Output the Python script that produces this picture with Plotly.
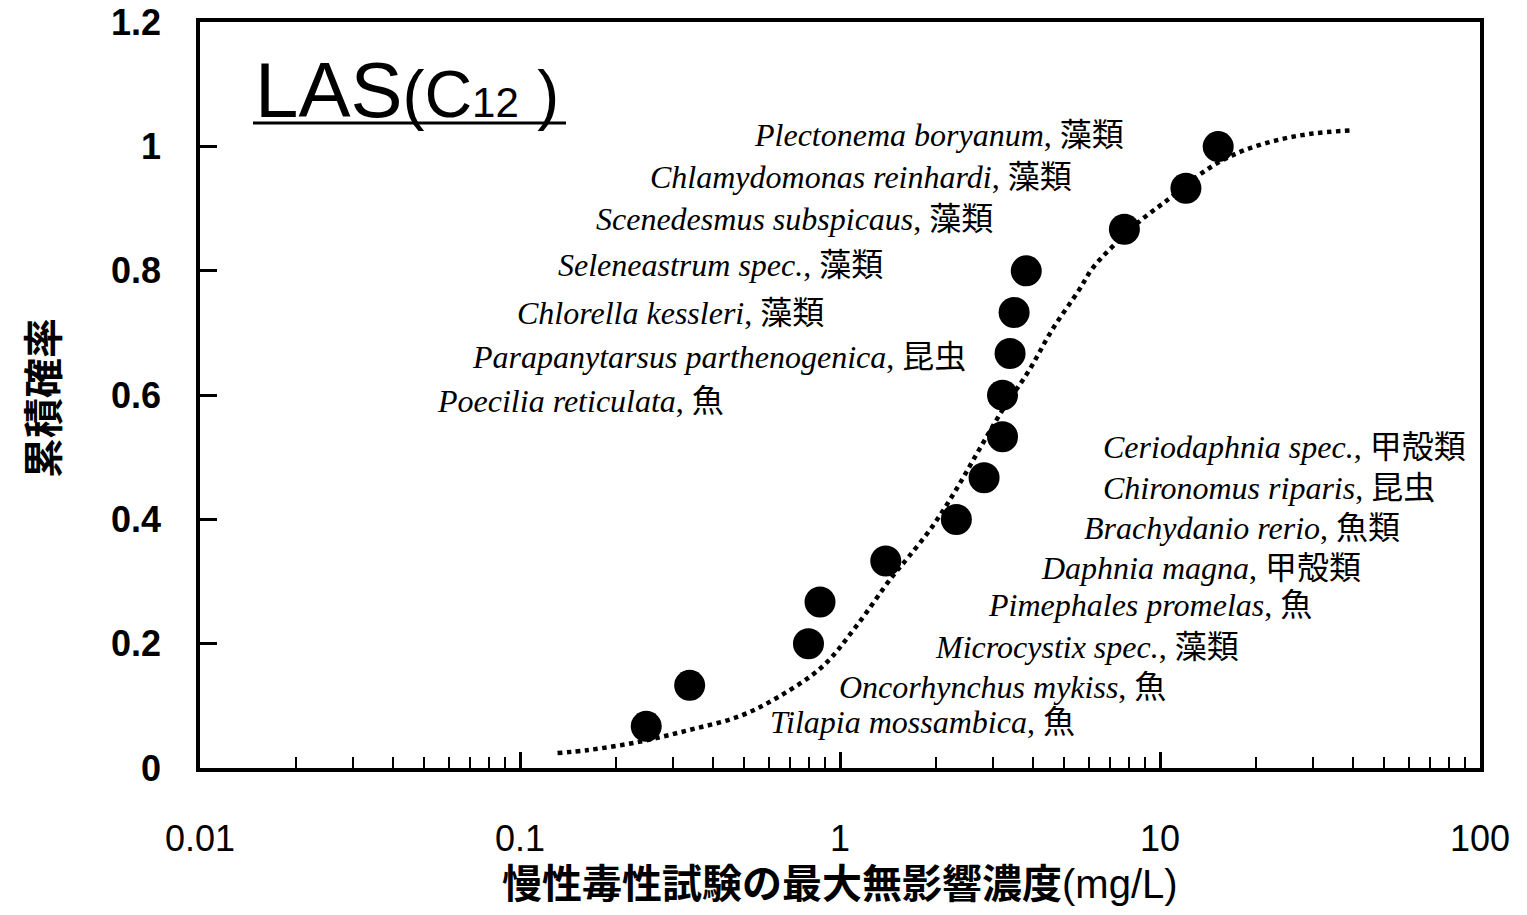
import plotly.graph_objects as go

# ---------------- data ----------------
species = [
    "Tilapia mossambica", "Oncorhynchus mykiss", "Microcystix spec.", "Pimephales promelas",
    "Daphnia magna", "Brachydanio rerio", "Chironomus riparis", "Ceriodaphnia spec.",
    "Poecilia reticulata", "Parapanytarsus parthenogenica", "Chlorella kessleri",
    "Seleneastrum spec.", "Scenedesmus subspicaus", "Chlamydomonas reinhardi", "Plectonema boryanum",
]
groups = ["魚", "魚", "藻類", "魚", "甲殻類", "魚類", "昆虫", "甲殻類",
          "魚", "昆虫", "藻類", "藻類", "藻類", "藻類", "藻類"]
noec_mg_l = [0.248, 0.339, 0.797, 0.866, 1.39, 2.31, 2.82, 3.22, 3.22, 3.40, 3.50, 3.82, 7.74, 12.05, 15.2]
cum_prob = [0.067, 0.133, 0.2, 0.267, 0.333, 0.4, 0.467, 0.533, 0.6, 0.667, 0.733, 0.8, 0.867, 0.933, 1.0]

fit_x = [0.131, 0.164, 0.2355, 0.337, 0.483, 0.645, 0.88, 1.12, 1.456, 1.64, 1.94, 2.3, 2.72,
         3.22, 3.9, 4.6, 5.58, 6.15, 7.1, 8.6, 10.67, 12.9, 15.3, 18.5, 23.5, 30.0, 39.4]
fit_y = [0.024, 0.029, 0.042, 0.061, 0.083, 0.115, 0.163, 0.227, 0.308, 0.340, 0.388, 0.447, 0.512,
         0.576, 0.640, 0.705, 0.769, 0.804, 0.839, 0.879, 0.916, 0.950, 0.975, 0.995, 1.011, 1.021, 1.026]

x_tick_vals = [0.01, 0.1, 1, 10, 100]
x_tick_text = ["0.01", "0.1", "1", "10", "100"]
y_tick_vals = [0, 0.2, 0.4, 0.6, 0.8, 1.0, 1.2]
y_tick_text = ["0", "0.2", "0.4", "0.6", "0.8", "1", "1.2"]

# ---------------- layout helpers (page pixel -> paper) ----------------
OFF = 8                      # default page body margin
W, H = 1527 - 2 * OFF, 915 - 2 * OFF
PL, PR, PT, PB = 200, 1480, 22, 768   # plot area in page pixels
L, R, T, B = PL - OFF, (1527 - OFF) - PR, PT - OFF, (915 - OFF) - PB
PW, PH = PR - PL, PB - PT


def px(x):
    return (x - PL) / PW


def py(y):
    return (PB - y) / PH


# label anchor (right end, vertical centre) in page pixels, same order as species
label_pos = [
    (1077, 722), (1168, 687), (1241, 647), (1314, 605), (1363, 568), (1402, 528),
    (1437, 488), (1468, 447), (726, 401), (968, 357), (826, 313), (885, 265),
    (995, 219), (1074, 177), (1126, 135),
]

fig = go.Figure()

fig.add_trace(go.Scatter(
    x=fit_x, y=fit_y, mode="lines", line=dict(color="black", width=4.5, dash="dot", shape="spline"),
    hoverinfo="skip", showlegend=False,
))
fig.add_trace(go.Scatter(
    x=noec_mg_l, y=cum_prob, mode="markers",
    marker=dict(color="black", size=31, line=dict(width=0)),
    text=species, showlegend=False,
))

annotations = []
for name, grp, (ax, ay) in zip(species, groups, label_pos):
    annotations.append(dict(
        text=f"<i>{name}</i>, {grp}", xref="paper", yref="paper", x=px(ax), y=py(ay),
        xanchor="right", yanchor="middle", showarrow=False,
        font=dict(family="Liberation Serif, Noto Sans CJK JP", size=32, color="black"),
    ))

# chart title label
annotations.append(dict(
    text="LAS<span style='font-size:66px'>(C</span><span style='font-size:42px'>12</span>"
         "<span style='font-size:66px'> )</span>",
    xref="paper", yref="paper", x=px(253), y=py(90), xanchor="left", yanchor="middle",
    showarrow=False, font=dict(family="Liberation Sans", size=78, color="black"),
))
# axis titles
annotations.append(dict(
    text="慢性毒性試験の最大無影響濃度<span style='font-weight:normal'>(mg/L)</span>",
    xref="paper", yref="paper", x=px(840), y=py(884), xanchor="center", yanchor="middle",
    showarrow=False, font=dict(family="Liberation Sans, Noto Sans CJK JP", size=40, color="black", weight="bold"),
))
annotations.append(dict(
    text="累積確率", textangle=-90,
    xref="paper", yref="paper", x=px(41), y=py(398), xanchor="center", yanchor="middle",
    showarrow=False, font=dict(family="Noto Sans CJK JP", size=40, color="black", weight="bold"),
))

minor_vals = [m * d for d in (0.01, 0.1, 1, 10) for m in range(2, 10)]

fig.update_layout(
    width=W, height=H,
    margin=dict(l=L, r=R, t=T, b=B, pad=0, autoexpand=False),
    paper_bgcolor="white", plot_bgcolor="white",
    showlegend=False,
    annotations=annotations,
    shapes=[dict(type="line", xref="paper", yref="paper", x0=px(253), x1=px(566),
                 y0=py(123), y1=py(123), line=dict(color="black", width=3))],
    xaxis=dict(
        type="log", range=[-2, 2], showgrid=False, zeroline=False, automargin=False,
        showline=True, linecolor="black", linewidth=3.5, mirror=True,
        ticks="inside", ticklen=16, tickwidth=2.5, tickcolor="black",
        tickvals=x_tick_vals, ticktext=x_tick_text,
        minor=dict(ticks="inside", ticklen=11, tickwidth=2, tickcolor="black", tickvals=minor_vals, showgrid=False),
        tickfont=dict(family="Liberation Sans", size=36, color="black"),
        ticklabelstandoff=36, ticklabeloverflow="allow",
    ),
    yaxis=dict(
        range=[0, 1.2005], showgrid=False, zeroline=False, automargin=False,
        showline=True, linecolor="black", linewidth=3.5, mirror=True,
        ticks="inside", ticklen=17, tickwidth=2.5, tickcolor="black",
        tickvals=y_tick_vals, ticktext=y_tick_text,
        tickfont=dict(family="Liberation Sans", size=36, color="black", weight="bold"),
        ticklabelstandoff=28, ticklabeloverflow="allow",
    ),
)

fig.write_html("out.html")
